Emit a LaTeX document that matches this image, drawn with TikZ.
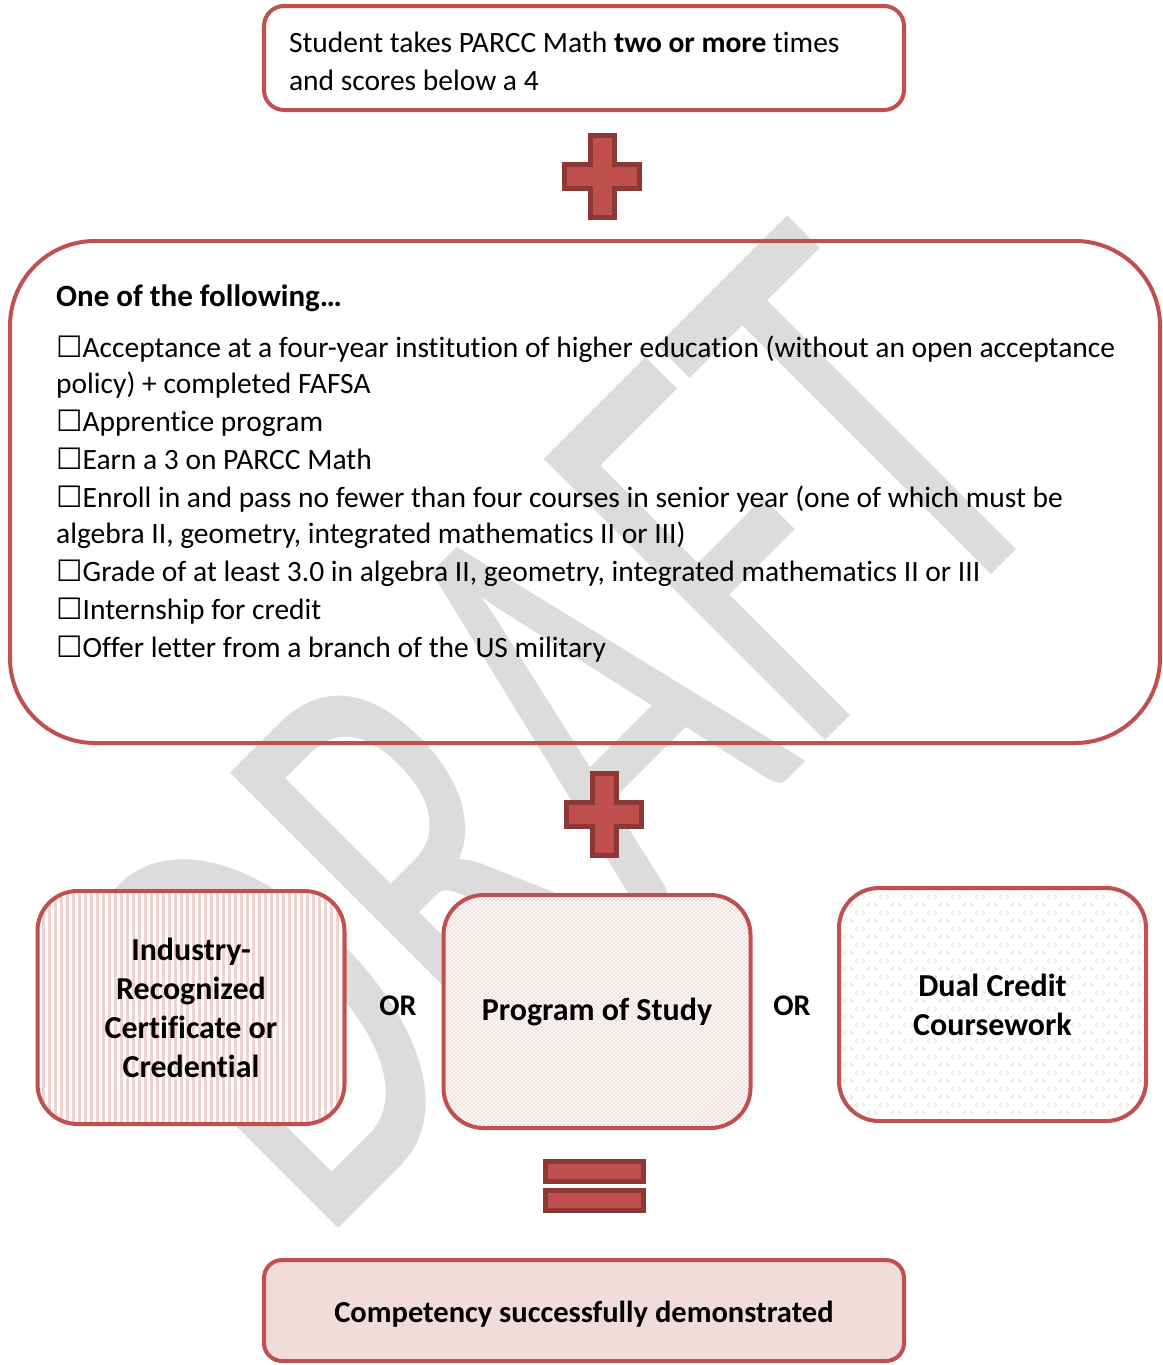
\documentclass[tikz,border=0pt]{standalone}
\usepackage{fontspec}
\setmainfont{Carlito}[Ligatures=CommonOff]
\newfontfamily\symfont{DejaVu Sans}
\usetikzlibrary{positioning,patterns}
\definecolor{accent}{HTML}{C0504D}
\definecolor{darkred}{HTML}{8C3836}
\definecolor{blush}{HTML}{F2DCDB}
\definecolor{stripe}{HTML}{F0D2D1}
\definecolor{wmgray}{HTML}{DCDCDC}
\newcommand\chk{{\symfont ☐}}
\pgfdeclarepatternformonly{vstripes}{\pgfqpoint{0pt}{-1pt}}{\pgfqpoint{6pt}{7pt}}{\pgfqpoint{6pt}{6pt}}{%
  \pgfpathrectangle{\pgfqpoint{0pt}{-1pt}}{\pgfqpoint{3pt}{8pt}}\pgfusepath{fill}}
\pgfdeclarepatternformonly{xhatch}{\pgfqpoint{-.5pt}{-.5pt}}{\pgfqpoint{4.5pt}{4.5pt}}{\pgfqpoint{4pt}{4pt}}{%
  \pgfsetlinewidth{.7pt}
  \pgfpathmoveto{\pgfqpoint{-.5pt}{-.5pt}}\pgfpathlineto{\pgfqpoint{4.5pt}{4.5pt}}
  \pgfpathmoveto{\pgfqpoint{-.5pt}{4.5pt}}\pgfpathlineto{\pgfqpoint{4.5pt}{-.5pt}}\pgfusepath{stroke}}
\pgfdeclarepatternformonly{chevrons}{\pgfqpoint{-1pt}{-1pt}}{\pgfqpoint{25pt}{17pt}}{\pgfqpoint{24pt}{16pt}}{%
  \pgfsetlinewidth{.9pt}
  \pgfpathmoveto{\pgfqpoint{6pt}{14pt}}\pgfpathlineto{\pgfqpoint{3pt}{12pt}}\pgfpathlineto{\pgfqpoint{6pt}{10pt}}
  \pgfpathmoveto{\pgfqpoint{10pt}{14pt}}\pgfpathlineto{\pgfqpoint{13pt}{12pt}}\pgfpathlineto{\pgfqpoint{10pt}{10pt}}
  \pgfpathmoveto{\pgfqpoint{18pt}{6pt}}\pgfpathlineto{\pgfqpoint{15pt}{4pt}}\pgfpathlineto{\pgfqpoint{18pt}{2pt}}
  \pgfpathmoveto{\pgfqpoint{22pt}{6pt}}\pgfpathlineto{\pgfqpoint{25pt}{4pt}}\pgfpathlineto{\pgfqpoint{22pt}{2pt}}
  \pgfusepath{stroke}}

\begin{document}
\begin{tikzpicture}[x=1pt,y=-1pt,font=\fontsize{29.5}{38}\selectfont]
	\tikzstyle{frame}=[draw=accent, line width=4pt, rounded corners=20pt, fill=white, inner sep=0pt]
	\tikzstyle{choice}=[frame, rounded corners=40pt, minimum width=307pt, minimum height=233pt, align=center, font=\fontsize{32}{39}\selectfont\bfseries]
	\tikzstyle{sign}=[fill=accent, draw=darkred, line width=5pt]
	\tikzstyle{word}=[font=\fontsize{30}{39}\selectfont\bfseries]
	\useasboundingbox (0,0) rectangle (1162,1365);
	% watermark
	\begin{scope}[shift={(555,730)}, rotate=45, xscale=.64]
		\node[text=wmgray, font=\fontsize{620}{620}\selectfont, transform shape] (draft) {DRAFT};
	\end{scope}
	\node[frame, minimum width=640pt, minimum height=104pt, text width=590pt, text height=27pt, align=flush left] (score) at (584,58) {Student takes PARCC Math \textbf{two or more} times\\and scores below a 4};
	\draw[sign] (602,176.5) ++(-12,-41) -- ++(24,0) -- ++(0,29) -- ++(25.5,0) -- ++(0,24) -- ++(-25.5,0) -- ++(0,29) -- ++(-24,0) -- ++(0,-29) -- ++(-25.5,0) -- ++(0,-24) -- ++(25.5,0) -- cycle;
	\node[frame, fill=none, rounded corners=85pt, minimum width=1150pt, minimum height=502pt] (options) at (585,492) {};
	\node[anchor=north west, align=left, inner sep=0pt] (items) at (56,285) {{\fontsize{31}{38}\selectfont\bfseries One of the following…}\\[13pt]
		\chk Acceptance at a four-year institution of higher education (without an open acceptance\\[-2pt]
		policy) + completed FAFSA\\
		\chk Apprentice program\\
		\chk Earn a 3 on PARCC Math\\
		\chk Enroll in and pass no fewer than four courses in senior year (one of which must be\\[-2pt]
		algebra II, geometry, integrated mathematics II or III)\\
		\chk Grade of at least 3.0 in algebra II, geometry, integrated mathematics II or III\\
		\chk Internship for credit\\
		\chk Offer letter from a branch of the US military};
	\draw[sign] (604,814) ++(-12,-41) -- ++(24,0) -- ++(0,29) -- ++(25.5,0) -- ++(0,24) -- ++(-25.5,0) -- ++(0,29) -- ++(-24,0) -- ++(0,-29) -- ++(-25.5,0) -- ++(0,-24) -- ++(25.5,0) -- cycle;
	\node[choice, preaction={fill=white}, pattern=vstripes, pattern color=stripe] (industry) at (191,1007.5) {Industry-\\Recognized\\Certificate or\\Credential};
	\node[choice, preaction={fill=white}, pattern=xhatch, pattern color=blush] (program) at (597,1011.5) {Program of Study};
	\node[choice, preaction={fill=white}, pattern=chevrons, pattern color=blush] (dual) at (992.5,1004.5) {Dual Credit\\Coursework};
	\node[word] (or1) at (398,1006) {OR};
	\node[word] (or2) at (792,1006) {OR};
	\draw[sign] (545.5,1161.5) rectangle (643.5,1181.5);
	\draw[sign] (545.5,1190.5) rectangle (643.5,1210.5);
	\node[frame, fill=blush, rounded corners=18pt, minimum width=640pt, minimum height=101pt, text height=31pt, text depth=6.5pt, font=\fontsize{30.5}{39}\selectfont\bfseries] (result) at (584,1310.5) {Competency successfully demonstrated};
\end{tikzpicture}
\end{document}
